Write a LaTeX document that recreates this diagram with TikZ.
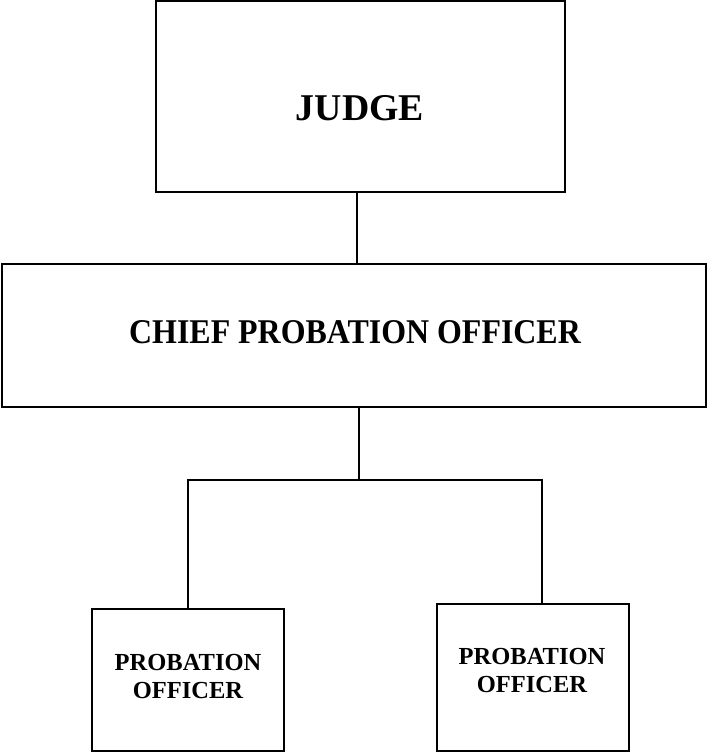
\documentclass[tikz,border=0pt]{standalone}
\usepackage{fontspec}
\setmainfont{Liberation Serif}
\usepackage{tikz}

\tikzset{
    box/.style={draw, line width=1.3pt, inner sep=0pt},
    title/.style={inner sep=0pt, font=\bfseries\fontsize{37.8}{40}\selectfont},
    head/.style={inner sep=0pt, font=\bfseries\fontsize{34.7}{38}\selectfont},
    staff/.style={inner sep=0pt, align=center, font=\bfseries\fontsize{24.5}{28}\selectfont},
}

\begin{document}
\begin{tikzpicture}[x=1pt, y=-1pt, line width=1.3pt]
    \useasboundingbox (0, 0) rectangle (707, 752);
    % boxes
    \node[box, minimum width=409pt, minimum height=191pt] (judge) at (360.5, 96.5) {};
    \node[box, minimum width=704pt, minimum height=143pt] (chief) at (354, 335.5) {};
    \node[box, minimum width=192pt, minimum height=142pt] (left) at (188, 680) {};
    \node[box, minimum width=192pt, minimum height=147pt] (right) at (533, 677.5) {};
    % texts
    \node[title, anchor=base] (judgetext) at (360, 120) {JUDGE};
    \node[head, anchor=base] (chieftext) at (355, 343) {\scalebox{0.92}[1]{CHIEF PROBATION OFFICER}};
    \node[staff] (lefttext) at (188, 676) {PROBATION\\OFFICER};
    \node[staff] (righttext) at (532, 670.5) {PROBATION\\OFFICER};
    % connectors
    \coordinate (top) at (357, 192);
    \coordinate (split) at (359, 480);
    \coordinate (barL) at (188, 480);
    \coordinate (barR) at (542, 480);
    \draw (top) -- (top |- chief.north);
    \draw (split |- chief.south) -- (split);
    \draw (barL |- left.north) -- (barL) -- (barR) -- (barR |- right.north);
\end{tikzpicture}
\end{document}
